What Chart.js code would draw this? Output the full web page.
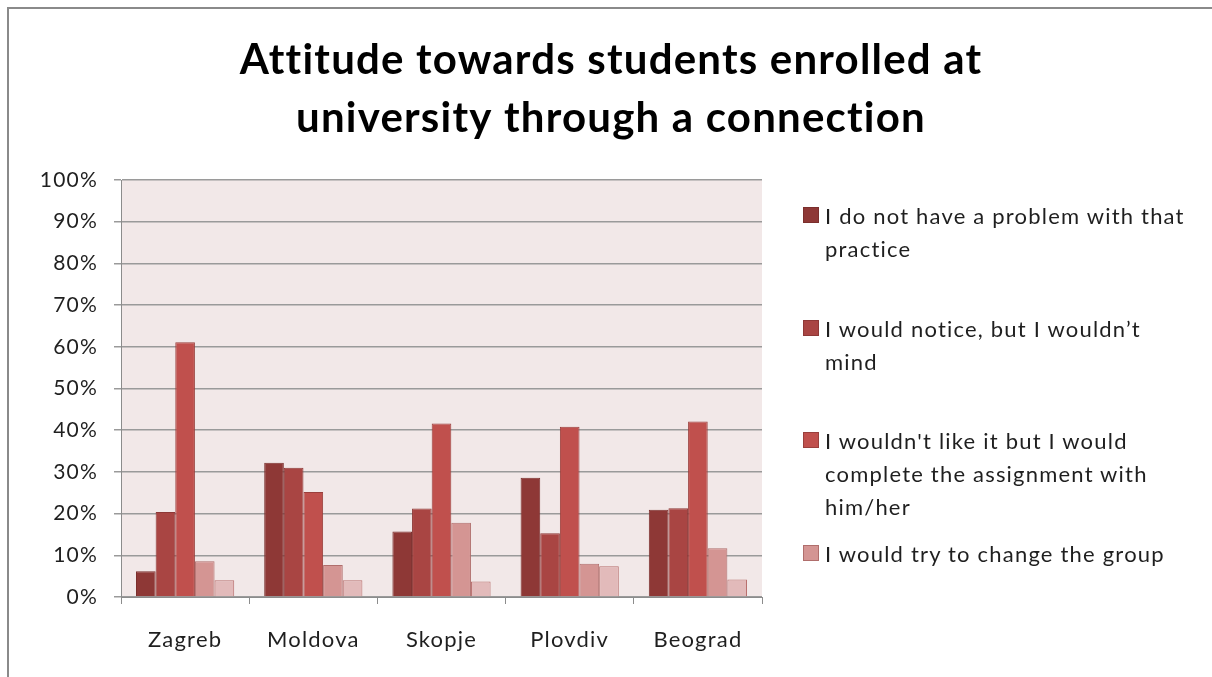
<!DOCTYPE html>
<html>
<head>
<meta charset="utf-8">
<script src="https://cdn.jsdelivr.net/npm/chart.js@4.4.1/dist/chart.umd.min.js"></script>
<style>
	body { margin: 0; background: #fff; overflow: hidden; }
	#wrap { position: relative; width: 1212px; height: 677px; overflow: hidden; }
	#wrap canvas { display: block; }
	#frame { position: absolute; left: 7px; top: 7px; width: 1300px; height: 800px;
		border-top: 2px solid #8a8a8a; border-left: 2px solid #8a8a8a; }
	#legend { position: absolute; left: 803px; top: 0; font-family: Lato, "Open Sans", sans-serif;
		font-size: 22px; letter-spacing: 1.2px; color: #1f1f1f; }
	.item { position: absolute; left: 0; width: 400px; }
	.sq { position: absolute; left: 0; top: 8px; width: 16px; height: 16px; box-sizing: border-box; }
	.txt { position: absolute; left: 22px; line-height: 33px; white-space: nowrap; }
</style>
</head>
<body>
<div id="wrap">
	<div id="frame"></div>
	<canvas id="chart" width="1212" height="677"></canvas>
	<div id="legend"></div>
</div>
<script>
const cities = ["Zagreb", "Moldova", "Skopje", "Plovdiv", "Beograd"];

// legend text (split as in the picture)
const seriesNames = [
	["I do not have a problem with that", "practice"],
	["I would notice, but I wouldn\u2019t", "mind"],
	["I wouldn't like it but I would", "complete the assignment with", "him/her"],
	["I would try to change the group"],
	[""], // 5th series has no legend entry
];

const noProblem = [6.2, 32.2, 15.7, 28.6, 20.9];
const wouldNotice = [20.4, 31.0, 21.2, 15.3, 21.3];
const wouldntLike = [61.1, 25.2, 41.6, 40.8, 42.1];
const changeGroup = [8.6, 7.7, 17.8, 8.0, 11.7];
const fifth = [4.0, 4.0, 3.7, 7.4, 4.2];

const yTicks = [0, 10, 20, 30, 40, 50, 60, 70, 80, 90, 100];

const fills = ["#8e3836", "#a94543", "#c0504d", "#d49593", "#e2baba"];
const edges = ["#7b2f2d", "#8e3836", "#9a3f3c", "#b06e6c", "#b9706e"];

const allData = [noProblem, wouldNotice, wouldntLike, changeGroup, fifth];

const font = "Lato";

const bgPlugin = {
	id: "plotBg",
	beforeUpdate(chart) {
		chart.ctx.letterSpacing = "1.2px"; // text in the picture is a bit wider than Lato
	},
	beforeDraw(chart) {
		const a = chart.chartArea;
		const ctx = chart.ctx;
		ctx.letterSpacing = "1.2px";
		ctx.save();
		ctx.fillStyle = "#f2e8e8";
		ctx.fillRect(a.left, a.top, a.right - a.left, a.bottom - a.top);
		ctx.restore();
	},
};

new Chart(document.getElementById("chart"), {
	type: "bar",
	data: {
		labels: cities,
		datasets: allData.map((d, i) => ({
			label: seriesNames[i].join(" "),
			data: d,
			backgroundColor: fills[i],
			borderColor: edges[i],
			borderWidth: 1,
			categoryPercentage: 0.766,
			barPercentage: 1.0,
		})),
	},
	options: {
		responsive: false,
		animation: false,
		layout: { padding: { left: 10, top: 0, right: 0, bottom: 0 } },
		plugins: {
			legend: { display: false },
			tooltip: { enabled: false },
			title: {
				display: true,
				text: ["Attitude towards students enrolled at", "university through a connection"],
				color: "#000",
				font: { family: font, size: 42, weight: "bold", lineHeight: "58px" },
				padding: { top: 31, bottom: 33 },
			},
		},
		scales: {
			x: {
				grid: { display: true, drawOnChartArea: false, drawTicks: true, tickLength: 7, color: "#8c8c8c", offset: true },
				border: { color: "#8c8c8c", width: 1 },
				ticks: { color: "#1f1f1f", font: { family: font, size: 22 }, padding: 23 },
				afterFit(s) { s.height = 80; },
			},
			y: {
				min: 0,
				max: 100,
				afterBuildTicks(s) { s.ticks = yTicks.map(v => ({ value: v })); },
				grid: { color: "#9a9a9a", lineWidth: 1.5, tickLength: 7 },
				border: { color: "#8c8c8c", width: 1 },
				ticks: { color: "#1f1f1f", font: { family: font, size: 21 }, padding: 16, callback: v => v + "%" },
				afterFit(s) { s.width = 111; },
			},
			spacer: {
				position: "right",
				display: true,
				grid: { display: false },
				border: { display: false },
				ticks: { display: false },
				afterFit(s) { s.width = 450; },
			},
		},
	},
	plugins: [bgPlugin],
});

// html legend, items evenly spaced like the original
const legend = document.getElementById("legend");
const itemTops = [199, 312, 424, 537];
seriesNames.slice(0, 4).forEach((lines, i) => {
	const it = document.createElement("div");
	it.className = "item";
	it.style.top = itemTops[i] + "px";
	const sq = document.createElement("div");
	sq.className = "sq";
	sq.style.background = fills[i];
	sq.style.border = "1px solid " + edges[i];
	const tx = document.createElement("div");
	tx.className = "txt";
	tx.innerHTML = lines.join("<br>");
	it.appendChild(sq);
	it.appendChild(tx);
	legend.appendChild(it);
});
</script>
</body>
</html>
